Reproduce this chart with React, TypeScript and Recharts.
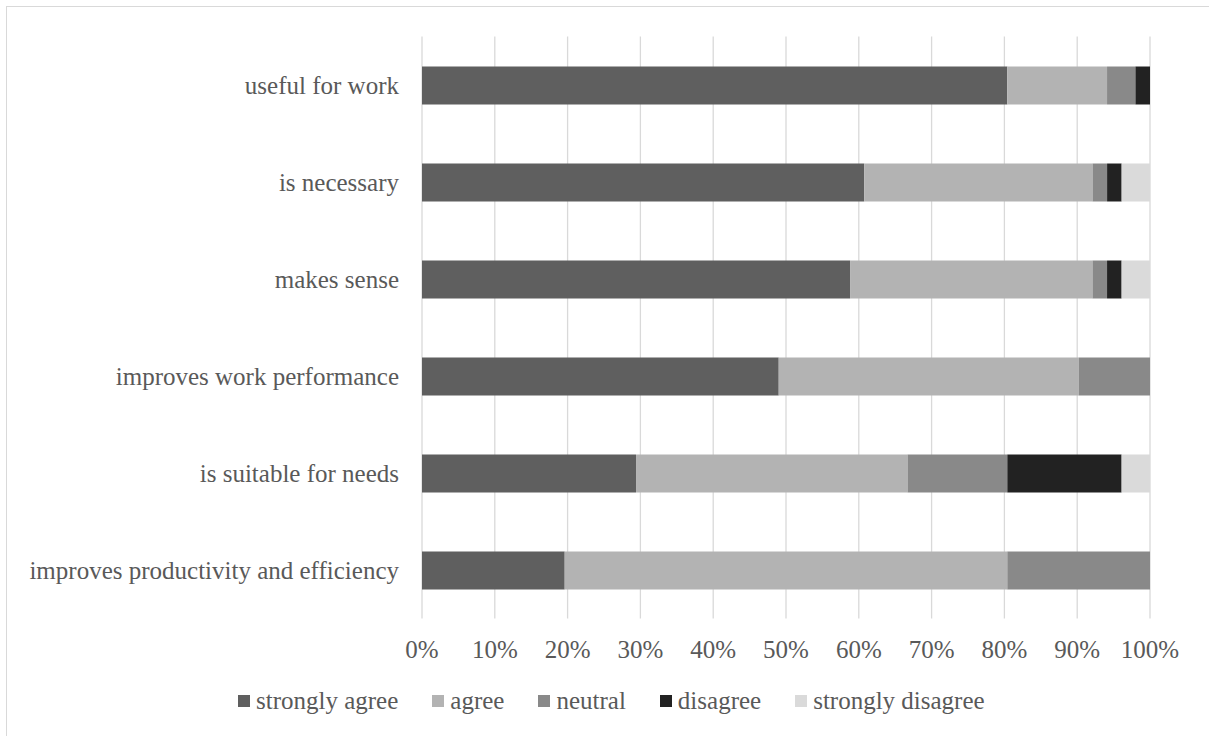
import React from "react";
import { BarChart, Bar, XAxis, YAxis, CartesianGrid, Legend } from "recharts";

const categories = [
  "useful for work",
  "is necessary",
  "makes sense",
  "improves work performance",
  "is suitable for needs",
  "improves productivity and efficiency",
];
const stronglyAgree = [80.4, 60.8, 58.8, 49.0, 29.4, 19.6];
const agree = [13.7, 31.4, 33.3, 41.2, 37.3, 60.8];
const neutral = [3.9, 2.0, 2.0, 9.8, 13.7, 19.6];
const disagree = [2.0, 2.0, 2.0, 0, 15.7, 0];
const stronglyDisagree = [0, 3.9, 3.9, 0, 3.9, 0];
const xTicks = [0, 0.1, 0.2, 0.3, 0.4, 0.5, 0.6, 0.7, 0.8, 0.9, 1];

const series = [
  { key: "sa", name: "strongly agree", values: stronglyAgree, color: "#5f5f5f" },
  { key: "a", name: "agree", values: agree, color: "#b3b3b3" },
  { key: "n", name: "neutral", values: neutral, color: "#898989" },
  { key: "d", name: "disagree", values: disagree, color: "#222222" },
  { key: "sd", name: "strongly disagree", values: stronglyDisagree, color: "#dadada" },
];

const data = categories.map((c, i) => {
  const row: Record<string, any> = { category: c };
  series.forEach((s) => (row[s.key] = s.values[i]));
  return row;
});

const FONT = "'Liberation Serif', serif";
const TEXT = "#595959";
const FS = 25;

const LegendContent = () => (
  <div
    style={{
      display: "flex",
      justifyContent: "flex-start",
      alignItems: "center",
      height: 32,
      paddingLeft: 231,
      fontSize: FS,
      fontFamily: FONT,
      color: TEXT,
      whiteSpace: "nowrap",
    }}
  >
    {series.map((s) => (
      <div key={s.key} style={{ display: "flex", alignItems: "center", marginRight: 34 }}>
        <span style={{ display: "inline-block", width: 12, height: 12, background: s.color, marginRight: 6 }} />
        <span style={{ lineHeight: "32px" }}>{s.name}</span>
      </div>
    ))}
  </div>
);

export default function App() {
  return (
    <div
      style={{
        position: "absolute",
        left: 6,
        top: 6,
        width: 1202,
        height: 729,
        borderLeft: "1px solid #d9d9d9",
        borderTop: "1px solid #d9d9d9",
        fontFamily: FONT,
        overflow: "hidden",
      }}
    >
      <BarChart
        width={1202}
        height={729}
        data={data}
        layout="vertical"
        stackOffset="expand"
        barSize={38}
        margin={{ top: 29.5, right: 59, left: 0, bottom: 55.5 }}
      >
        <CartesianGrid horizontal={false} vertical stroke="#d9d9d9" strokeWidth={1.3} verticalValues={xTicks} />
        <XAxis
          type="number"
          domain={[0, 1]}
          ticks={xTicks}
          tickFormatter={(v: number) => `${Math.round(v * 100)}%`}
          axisLine={false}
          tickLine={false}
          tickMargin={16}
          height={30}
          interval={0}
          tick={{ fill: TEXT, fontSize: FS, fontFamily: FONT }}
        />
        <YAxis
          type="category"
          dataKey="category"
          width={415}
          axisLine={false}
          tickLine={false}
          tickMargin={17}
          interval={0}
          tick={{ fill: TEXT, fontSize: FS, fontFamily: FONT }}
        />
        <Legend
          verticalAlign="bottom"
          wrapperStyle={{ top: 678, left: 0, width: 1202, height: 32 }}
          content={() => <LegendContent />}
        />
        {series.map((s) => (
          <Bar
            key={s.key}
            dataKey={s.key}
            name={s.name}
            stackId="x"
            fill={s.color}
            isAnimationActive={false}
          />
        ))}
      </BarChart>
    </div>
  );
}
